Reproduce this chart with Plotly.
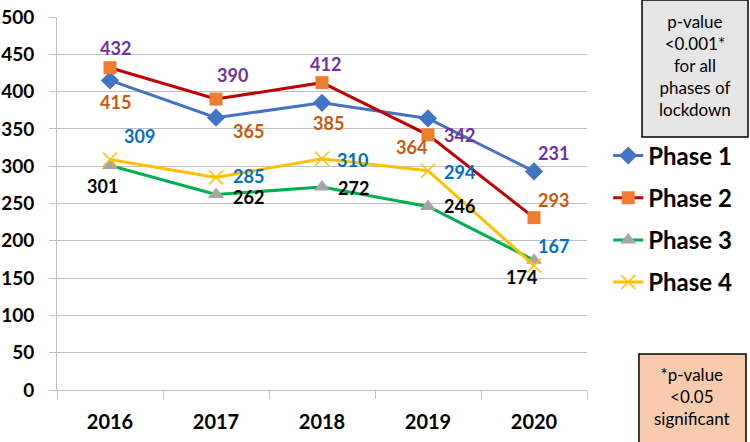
import plotly.graph_objects as go

years = ["2016", "2017", "2018", "2019", "2020"]
phase1 = [415, 365, 385, 364, 293]
phase2 = [432, 390, 412, 342, 231]
phase3 = [301, 262, 272, 246, 174]
phase4 = [309, 285, 310, 294, 167]
y_ticks = [0, 50, 100, 150, 200, 250, 300, 350, 400, 450, 500]

FONT = "Lato"

fig = go.Figure()
fig.add_trace(go.Scatter(x=years, y=phase1, name="Phase 1", legendgroup="1", mode="lines+markers",
                         line=dict(color="#4472C4", width=3),
                         marker=dict(symbol="diamond", size=14, color="#4472C4")))
fig.add_trace(go.Scatter(x=years, y=phase2, name="Phase 2", legendgroup="2", mode="lines+markers",
                         line=dict(color="#C00000", width=3),
                         marker=dict(symbol="square", size=13, color="#ED7D31")))
fig.add_trace(go.Scatter(x=years, y=phase3, name="Phase 3", legendgroup="3", mode="lines+markers",
                         line=dict(color="#00B050", width=3),
                         marker=dict(symbol="triangle-up", size=14, color="#A5A5A5")))
fig.add_trace(go.Scatter(x=years, y=phase4, name="Phase 4", legendgroup="4", mode="lines+markers",
                         line=dict(color="#FFC000", width=3),
                         marker=dict(symbol="x-thin", size=14, color="#FFC000",
                                     line=dict(color="#FFC000", width=1.5))))

# data labels: (series values, text colour, pixel offsets)
label_sets = [
    (phase2, "#7030A0", [(5, 20), (16, 24), (3, 19), (31, 0), (19, 65)]),
    (phase1, "#C55A11", [(5, -22), (32, -13), (6, -20), (-17, -29), (19, -29)]),
    (phase4, "#0070C0", [(29, 23), (32, 1), (30, -1), (31, -1), (19, 19)]),
    (phase3, "#000000", [(-8, -21), (32, -2), (31, -1), (31, 0), (-13, -17)]),
]
for vals, col, offs in label_sets:
    for i, (v, (dx, dy)) in enumerate(zip(vals, offs)):
        fig.add_annotation(x=i, y=v, xref="x", yref="y", text=str(v), showarrow=False,
                           xshift=dx, yshift=dy,
                           font=dict(family=FONT, size=18, color=col, weight="bold"))

# note boxes
fig.add_shape(type="rect", xref="paper", yref="paper", x0=1.1038, x1=1.3038, y0=0.678, y1=1.0456,
              fillcolor="#E7E6E6", line=dict(color="#000000", width=1.5), layer="above")
fig.add_annotation(xref="paper", yref="paper", x=1.2038, y=0.8713, xanchor="center", yanchor="middle",
                   text="p-value<br>&lt;0.001*<br>for all<br>phases of<br>lockdown",
                   showarrow=False, font=dict(family=FONT, size=17, color="#000000"))
fig.add_shape(type="rect", xref="paper", yref="paper", x0=1.098, x1=1.3, y0=-0.147, y1=0.0965,
              fillcolor="#F8CBAD", line=dict(color="#000000", width=1.5), layer="above")
fig.add_annotation(xref="paper", yref="paper", x=1.199, y=-0.0161, xanchor="center", yanchor="middle",
                   text="*p-value<br>&lt;0.05<br>significant",
                   showarrow=False, font=dict(family=FONT, size=17, color="#000000"))

fig.update_layout(
    width=750, height=442,
    margin=dict(l=57, r=163, t=17, b=52, autoexpand=False),
    paper_bgcolor="white", plot_bgcolor="white",
    font=dict(family=FONT, color="#000000"),
    legend=dict(x=1.04, y=0.688, xanchor="left", yanchor="top",
                font=dict(family=FONT, size=24, color="#000000", weight="bold"),
                tracegroupgap=8, bgcolor="rgba(0,0,0,0)"),
    showlegend=True,
)
fig.update_xaxes(type="category", range=[-0.5, 4.5], showgrid=False, automargin=False,
                 showline=True, linecolor="#BFBFBF", linewidth=1,
                 ticks="outside", tickson="boundaries", ticklen=8, tickcolor="#BFBFBF",
                 ticklabelstandoff=14,
                 tickfont=dict(family=FONT, size=20, weight="bold", color="#000000"))
fig.update_yaxes(range=[0, 500], tickvals=y_ticks, showgrid=True, gridcolor="#BFBFBF", gridwidth=1,
                 showline=True, linecolor="#BFBFBF", linewidth=1, zeroline=False, automargin=False,
                 ticks="outside", ticklen=7, tickcolor="#BFBFBF", ticklabelstandoff=11,
                 tickfont=dict(family=FONT, size=19, weight="bold", color="#000000"))

fig.write_html("out.html", config={"displayModeBar": False},
               post_script="document.body.style.margin='0';document.body.style.overflow='hidden';")
